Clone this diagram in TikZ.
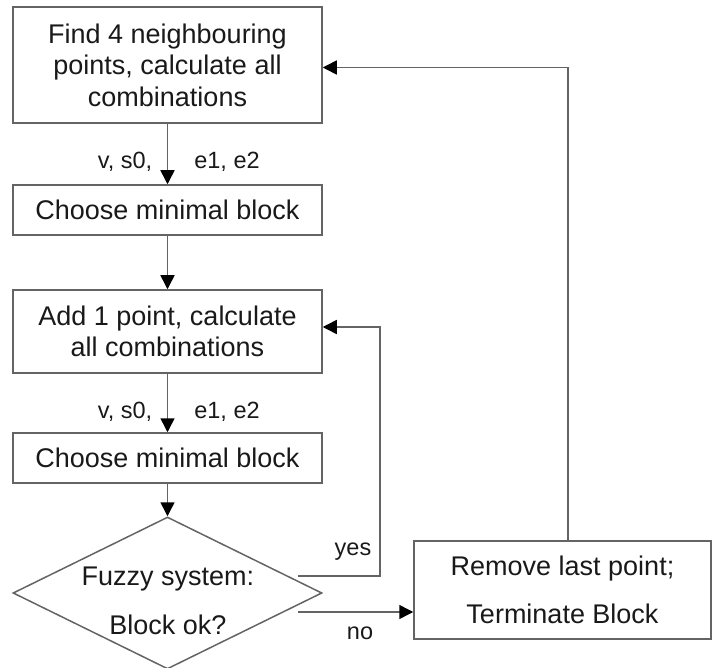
\documentclass[tikz,border=0pt]{standalone}
\usepackage{fontspec}
\setmainfont{Liberation Sans}
\usetikzlibrary{arrows.meta,shapes.geometric,calc}
\definecolor{linegray}{RGB}{100,100,100}
\definecolor{txt}{RGB}{25,25,25}
\begin{document}
\begin{tikzpicture}[x=1pt,y=-1pt,
  box/.style={draw=linegray,line width=1.5pt,rectangle,inner sep=0pt,text=txt,align=center,
    font=\fontsize{27}{31.5}\selectfont,minimum width=309pt},
  lbl/.style={text=txt,inner sep=0pt,font=\fontsize{23.5}{27}\selectfont},
  conn/.style={draw=linegray,line width=1.5pt},
  arr/.style={conn,-{Triangle[length=14pt,width=14pt,color=black]}}]
\useasboundingbox (0,0) rectangle (712,668);
\node[box,minimum height=116pt] (b1) at (167.5,65) {Find 4 neighbouring\\points, calculate all\\combinations};
\node[box,minimum height=50pt] (b2) at (167.5,210) {Choose minimal block};
\node[box,minimum height=83pt] (b3) at (167.5,331.5) {Add 1 point, calculate\\all combinations};
\node[box,minimum height=50pt] (b4) at (167.5,458) {Choose minimal block};
\node[draw=linegray,line width=1.5pt,diamond,aspect=2.03,inner sep=0pt,minimum width=309pt,minimum height=152pt] (d) at (167.5,593) {};
\node[text=txt,align=center,inner sep=0pt,font=\fontsize{27}{48.5}\selectfont] (dt) at (168,601) {Fuzzy system:\\Block ok?};
\node[draw=linegray,line width=1.5pt,rectangle,inner sep=0pt,text=txt,align=center,
    font=\fontsize{27}{48.5}\selectfont,minimum width=297pt,minimum height=98pt] (b5) at (562.5,590) {Remove last point;\\Terminate Block};
\node[lbl] (l1a) at (125,162) {v, s0,};
\node[lbl] (l1b) at (227,162) {e1, e2};
\node[lbl] (l2a) at (125,412) {v, s0,};
\node[lbl] (l2b) at (227,412) {e1, e2};
\node[lbl] (ly) at (353,552) {yes};
\node[lbl] (ln) at (360,633) {no};
\draw[arr] (b1.south) -- (b2.north);
\draw[arr] (b2.south) -- (b3.north);
\draw[arr] (b3.south) -- (b4.north);
\draw[arr] (b4.south) -- (d.north);
\coordinate (ys) at ($(d.east)+(-25,-17)$);
\coordinate (ns) at ($(d.east)+(-25,19)$);
\coordinate (b3in) at ($(b3.east)+(0,-4.5)$);
\coordinate (b5out) at ($(b5.north)+(5.5,0)$);
\coordinate (b1in) at ($(b1.east)+(0,2.5)$);
\draw[arr] (ys) -- (ys -| 380,0) -- (380,0 |- b3in) -- (b3in);
\draw[arr] (ns) -- (ns -| b5.west);
\draw[arr] (b5out) |- (b1in);
\end{tikzpicture}
\end{document}
